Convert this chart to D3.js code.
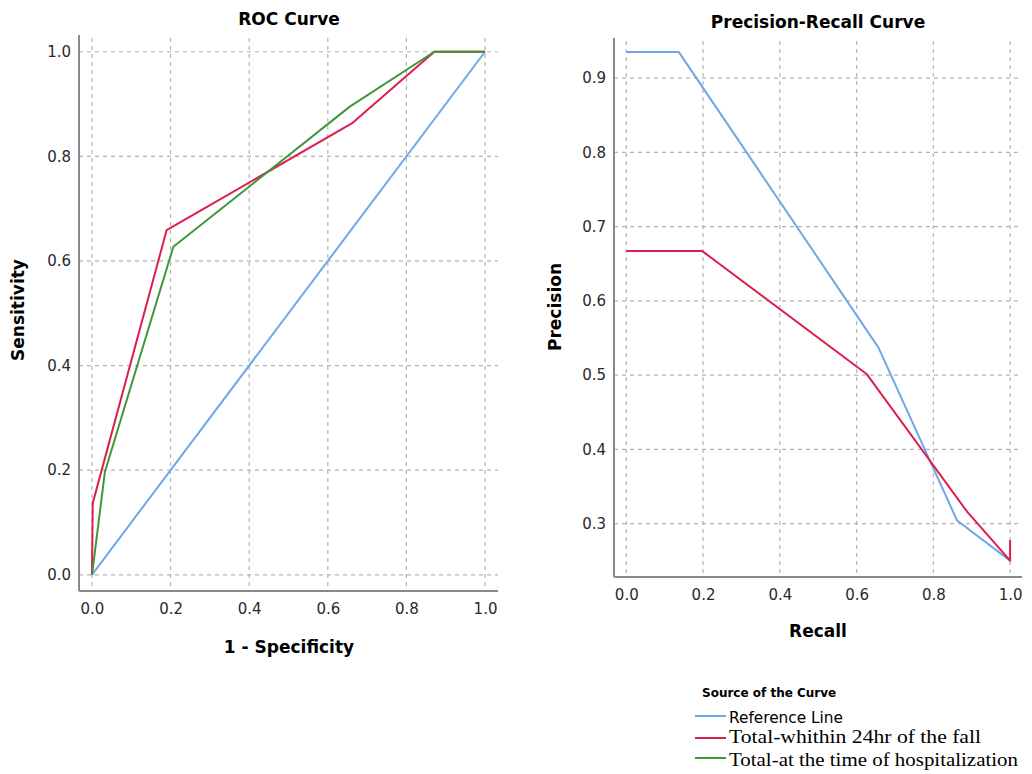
<!DOCTYPE html>
<html>
<head>
    <title>ROC and Precision-Recall Curves</title>
    <style>
        body { margin: 0; background: #fff; }
        text { font-family: "DejaVu Sans", sans-serif; }
    </style>
</head>
<body>
    <script src="https://d3js.org/d3.v7.min.js"></script>
    <script>
        // ROC curve points (1 - specificity, sensitivity)
        const rocRefX = [0, 1];
        const rocRefY = [0, 1];
        const rocWithin24X = [0, 0.002, 0.19, 0.661, 0.871, 1.0];
        const rocWithin24Y = [0, 0.137, 0.659, 0.863, 1.0, 1.0];
        const rocHospX = [0, 0.033, 0.207, 0.656, 0.871, 1.0];
        const rocHospY = [0, 0.197, 0.627, 0.895, 1.0, 1.0];

        // Precision-recall curve points (recall, precision)
        const prRefRecall = [0, 0.137, 0.657, 0.862, 1.0];
        const prRefPrecision = [0.935, 0.935, 0.537, 0.304, 0.25];
        const prWithin24Recall = [0, 0.198, 0.627, 0.888, 1.0, 1.0];
        const prWithin24Precision = [0.667, 0.667, 0.501, 0.316, 0.25, 0.278];

        const rocTicks = [0, 0.2, 0.4, 0.6, 0.8, 1.0];
        const prXTicks = [0, 0.2, 0.4, 0.6, 0.8, 1.0];
        const prYTicks = [0.3, 0.4, 0.5, 0.6, 0.7, 0.8, 0.9];

        const seriesNames = ['Reference Line', 'Total-whithin 24hr of the fall', 'Total-at the time of hospitalization'];
        const colors = ['#6ea7ea', '#dc1f4c', '#3e983a'];

        const width = 1032;
        const height = 774;

        const svg = d3.select('body')
            .append('svg')
            .attr('width', width)
            .attr('height', height);

        const zip = (xs, ys) => xs.map((x, i) => [x, ys[i]]);

        function drawPanel(opts) {
            const x = d3.scaleLinear().domain(opts.xDomain).range(opts.xRange);
            const y = d3.scaleLinear().domain(opts.yDomain).range(opts.yRange);
            const g = svg.append('g');

            // dashed grid
            g.selectAll('.vgrid')
                .data(opts.xTicks)
                .enter()
                .append('line')
                .attr('x1', d => x(d)).attr('x2', d => x(d))
                .attr('y1', opts.yRange[1] + 3).attr('y2', opts.yRange[0])
                .attr('stroke', '#b4b4b4')
                .attr('stroke-width', 1.2)
                .attr('stroke-dasharray', '4,4');

            g.selectAll('.hgrid')
                .data(opts.yTicks)
                .enter()
                .append('line')
                .attr('x1', opts.xRange[0]).attr('x2', opts.xRange[1])
                .attr('y1', d => y(d)).attr('y2', d => y(d))
                .attr('stroke', '#b4b4b4')
                .attr('stroke-width', 1.2)
                .attr('stroke-dasharray', '4,4');

            // axes (labels only, lines drawn below)
            const xAxis = g.append('g')
                .attr('transform', `translate(0,${opts.yRange[0]})`)
                .call(d3.axisBottom(x).tickValues(opts.xTicks).tickFormat(d3.format('.1f')).tickSize(0).tickPadding(opts.xPad));
            const yAxis = g.append('g')
                .attr('transform', `translate(${opts.xRange[0]},0)`)
                .call(d3.axisLeft(y).tickValues(opts.yTicks).tickFormat(d3.format('.1f')).tickSize(0).tickPadding(opts.yPad));
            [xAxis, yAxis].forEach(a => {
                a.select('.domain').remove();
                a.selectAll('text')
                    .attr('fill', '#2a2a2a')
                    .style('font-size', '15px')
                    .style('font-family', '"DejaVu Sans", sans-serif');
            });

            g.append('line')
                .attr('x1', opts.xRange[0]).attr('x2', opts.xRange[0])
                .attr('y1', opts.yRange[1]).attr('y2', opts.yRange[0])
                .attr('stroke', '#8a8a8a').attr('stroke-width', 2);
            g.append('line')
                .attr('x1', opts.xRange[0]).attr('x2', opts.xRange[1])
                .attr('y1', opts.yRange[0]).attr('y2', opts.yRange[0])
                .attr('stroke', '#8a8a8a').attr('stroke-width', 2);

            const line = d3.line().x(d => x(d[0])).y(d => y(d[1]));
            opts.series.forEach(s => {
                g.append('path')
                    .datum(s.points)
                    .attr('d', line)
                    .attr('fill', 'none')
                    .attr('stroke', s.color)
                    .attr('stroke-width', 2)
                    .attr('stroke-linejoin', 'round');
            });

            // titles
            g.append('text')
                .attr('x', opts.titleX).attr('y', opts.titleY)
                .attr('text-anchor', 'middle')
                .style('font-size', '17px').style('font-weight', 'bold')
                .text(opts.title);
            g.append('text')
                .attr('x', opts.titleX).attr('y', opts.xLabelY)
                .attr('text-anchor', 'middle')
                .style('font-size', '17px').style('font-weight', 'bold')
                .text(opts.xLabel);
            g.append('text')
                .attr('transform', `translate(${opts.yLabelX},${opts.yLabelY}) rotate(-90)`)
                .attr('text-anchor', 'middle')
                .style('font-size', '17px').style('font-weight', 'bold')
                .text(opts.yLabel);
        }

        drawPanel({
            xDomain: [-0.033, 1.033], xRange: [79, 498],
            yDomain: [-0.031, 1.032], yRange: [591, 35],
            xTicks: rocTicks, yTicks: rocTicks,
            xPad: 12, yPad: 8,
            title: 'ROC Curve', titleX: 289, titleY: 25,
            xLabel: '1 - Specificity', xLabelY: 653,
            yLabel: 'Sensitivity', yLabelX: 24, yLabelY: 310,
            series: [
                { points: zip(rocRefX, rocRefY), color: colors[0] },
                { points: zip(rocWithin24X, rocWithin24Y), color: colors[1] },
                { points: zip(rocHospX, rocHospY), color: colors[2] }
            ]
        });

        drawPanel({
            xDomain: [-0.032, 1.031], xRange: [614, 1022],
            yDomain: [0.228, 0.954], yRange: [577, 38],
            xTicks: prXTicks, yTicks: prYTicks,
            xPad: 12, yPad: 8,
            title: 'Precision-Recall Curve', titleX: 818, titleY: 28,
            xLabel: 'Recall', xLabelY: 637,
            yLabel: 'Precision', yLabelX: 561, yLabelY: 307,
            series: [
                { points: zip(prRefRecall, prRefPrecision), color: colors[0] },
                { points: zip(prWithin24Recall, prWithin24Precision), color: colors[1] }
            ]
        });

        // legend
        const legend = svg.append('g');
        legend.append('text')
            .attr('x', 702).attr('y', 697)
            .style('font-size', '12px').style('font-weight', 'bold')
            .text('Source of the Curve');

        const legendY = [716, 738, 758];
        legend.selectAll('.key')
            .data(seriesNames)
            .enter()
            .append('line')
            .attr('x1', 695).attr('x2', 726)
            .attr('y1', (d, i) => legendY[i]).attr('y2', (d, i) => legendY[i])
            .attr('stroke', (d, i) => colors[i])
            .attr('stroke-width', 2);

        legend.selectAll('.label')
            .data(seriesNames)
            .enter()
            .append('text')
            .attr('x', 729)
            .attr('y', (d, i) => [723, 743, 766][i])
            .attr('textLength', (d, i) => [114, 252, 289][i])
            .attr('lengthAdjust', 'spacingAndGlyphs')
            .style('font-family', (d, i) => i === 0 ? '"DejaVu Sans", sans-serif' : '"Liberation Serif", serif')
            .style('font-size', (d, i) => i === 0 ? '15px' : '19.5px')
            .text(d => d);
    </script>
</body>
</html>
